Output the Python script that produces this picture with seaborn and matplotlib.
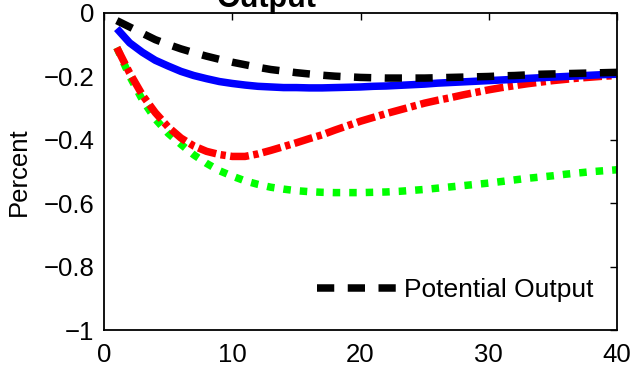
import numpy as np
import pandas as pd
import matplotlib
matplotlib.use("Agg")
import matplotlib.pyplot as plt
import seaborn as sns

quarters = list(range(1, 41))

potential_output = [-0.025, -0.045, -0.065, -0.085, -0.100, -0.114, -0.126, -0.137, -0.147, -0.156,
                    -0.164, -0.172, -0.179, -0.184, -0.189, -0.193, -0.197, -0.200, -0.202, -0.204,
                    -0.205, -0.206, -0.206, -0.206, -0.206, -0.205, -0.204, -0.203, -0.202, -0.201,
                    -0.199, -0.198, -0.196, -0.194, -0.193, -0.192, -0.191, -0.190, -0.189, -0.188]

blue_series = [-0.050, -0.095, -0.125, -0.150, -0.168, -0.185, -0.198, -0.208, -0.217, -0.223,
               -0.228, -0.232, -0.234, -0.236, -0.236, -0.237, -0.237, -0.236, -0.235, -0.234,
               -0.232, -0.231, -0.229, -0.227, -0.225, -0.222, -0.220, -0.218, -0.216, -0.214,
               -0.212, -0.210, -0.207, -0.205, -0.203, -0.201, -0.199, -0.197, -0.195, -0.194]

red_series = [-0.110, -0.190, -0.260, -0.315, -0.360, -0.395, -0.420, -0.437, -0.447, -0.453,
              -0.453, -0.445, -0.434, -0.422, -0.410, -0.397, -0.385, -0.370, -0.356, -0.342,
              -0.330, -0.318, -0.307, -0.296, -0.285, -0.276, -0.268, -0.259, -0.251, -0.243,
              -0.236, -0.230, -0.224, -0.219, -0.214, -0.210, -0.206, -0.203, -0.200, -0.198]

green_series = [-0.110, -0.200, -0.275, -0.335, -0.380, -0.415, -0.448, -0.475, -0.498, -0.515,
                -0.530, -0.541, -0.550, -0.556, -0.561, -0.564, -0.566, -0.567, -0.567, -0.567,
                -0.566, -0.565, -0.563, -0.560, -0.557, -0.553, -0.549, -0.545, -0.541, -0.537,
                -0.532, -0.527, -0.522, -0.518, -0.514, -0.509, -0.505, -0.501, -0.498, -0.495]

x_ticks = [0, 10, 20, 30, 40]
y_ticks = [0, -0.2, -0.4, -0.6, -0.8, -1]
y_tick_labels = ["0", "\u22120.2", "\u22120.4", "\u22120.6", "\u22120.8", "\u22121"]

sns.set_style("white")
plt.rcParams['font.family'] = ['Liberation Sans', 'DejaVu Sans']
plt.rcParams['text.color'] = 'black'
plt.rcParams['axes.labelcolor'] = 'black'
plt.rcParams['xtick.color'] = 'black'
plt.rcParams['ytick.color'] = 'black'

fig = plt.figure(figsize=(6.34, 3.73), dpi=100)
ax = fig.add_axes([104/634, 1 - 330/373, (617-104)/634, (330-12.7)/373])

lw = 5.4
sns.lineplot(x=quarters, y=green_series, ax=ax, color=(0, 1, 0), linewidth=lw,
             linestyle=(0, (1.0, 1.2)))
sns.lineplot(x=quarters, y=red_series, ax=ax, color=(1, 0, 0), linewidth=lw,
             linestyle=(0, (2.5, 0.6, 0.7, 0.6)))
sns.lineplot(x=quarters, y=blue_series, ax=ax, color=(0, 0, 1), linewidth=lw,
             linestyle='-')
sns.lineplot(x=quarters, y=potential_output, ax=ax, color='black', linewidth=lw,
             linestyle=(0, (2.3, 1.8)), label='Potential Output')
for ln in ax.get_lines():
    ln.set_solid_capstyle('butt')
    ln.set_dash_capstyle('butt')

ax.set_xlim(0, 40)
ax.set_ylim(-1, 0)
ax.set_xticks(x_ticks)
ax.set_xticklabels([str(t) for t in x_ticks])
ax.set_yticks(y_ticks)
ax.set_yticklabels(y_tick_labels)
ax.tick_params(axis='both', which='both', direction='in', length=5, width=1,
               top=True, right=True, labelsize=18.5, colors='black')
ax.tick_params(axis='x', pad=9)
ax.tick_params(axis='y', pad=7)
for s in ax.spines.values():
    s.set_visible(True)
    s.set_color('black')
    s.set_linewidth(1.3)
ax.set_ylabel('Percent', fontsize=18.5, labelpad=9)
ax.set_xlabel('')

black_line = ax.get_lines()[-1]
leg = ax.legend(handles=[black_line], labels=['Potential Output'], loc='lower right',
                bbox_to_anchor=(0.99, 0.03), frameon=False, fontsize=19,
                handlelength=3.0, handletextpad=0.3, borderpad=0.2)

fig.text(267/634, 1 - 7/373, 'Output', ha='center', va='baseline',
         fontsize=22, fontweight='bold')

fig.savefig('out.png', dpi=100)
